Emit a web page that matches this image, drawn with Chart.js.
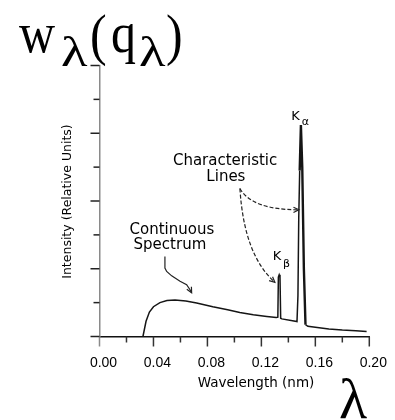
<!DOCTYPE html>
<html>
<head>
<meta charset="utf-8">
<script src="https://cdn.jsdelivr.net/npm/chart.js@4.4.1/dist/chart.umd.min.js"></script>
<style>
  html, body { margin: 0; padding: 0; background: #fff; }
  #wrap { width: 395px; height: 420px; }
</style>
</head>
<body>
<div id="wrap"><canvas id="chart" width="395" height="420"></canvas></div>
<script>
// X-ray tube spectrum (nm, relative units)
const wavelength = [0.0322, 0.0345, 0.0370, 0.0400, 0.0448, 0.0500, 0.0560, 0.0640, 0.0720, 0.0840, 0.0950, 0.1040, 0.1140, 0.1240, 0.1310,
                    0.1322, 0.1326, 0.1332, 0.1338, 0.1343, 0.1352, 0.1464,
                    0.1471, 0.1477, 0.1484, 0.1493, 0.1503, 0.1515, 0.1527, 0.1545, 0.1600, 0.1700, 0.1800, 0.1900, 0.1980];
const intensity  = [0.00, 0.45, 0.72, 0.88, 1.00, 1.06, 1.08, 1.05, 0.99, 0.88, 0.79, 0.71, 0.64, 0.59, 0.56,
                    0.57, 1.75, 1.82, 1.75, 0.54, 0.52, 0.44,
                    1.20, 3.50, 4.90, 6.24, 5.00, 2.00, 0.35, 0.30, 0.27, 0.22, 0.19, 0.17, 0.15];
const xTickLabels = ['0.00', '0.04', '0.08', '0.12', '0.16', '0.20'];

const points = wavelength.map((w, i) => ({ x: w, y: intensity[i] }));

function glyph(ctx, s, x, base, font, sx, sy) {
  ctx.save();
  ctx.translate(x, base);
  ctx.scale(sx, sy);
  ctx.font = font;
  ctx.textAlign = 'left';
  ctx.textBaseline = 'alphabetic';
  ctx.fillText(s, 0, 0);
  ctx.restore();
}

function arrowHead(ctx, x, y, ang, size) {
  ctx.save();
  ctx.setLineDash([]);
  ctx.beginPath();
  ctx.moveTo(x - size * Math.cos(ang - 0.45), y - size * Math.sin(ang - 0.45));
  ctx.lineTo(x, y);
  ctx.lineTo(x - size * Math.cos(ang + 0.45), y - size * Math.sin(ang + 0.45));
  ctx.stroke();
  ctx.restore();
}

const decor = {
  id: 'decor',
  afterDraw(chart) {
    const { ctx, scales: { x, y } } = chart;
    const px = v => x.getPixelForValue(v);
    const py = v => y.getPixelForValue(v);
    ctx.save();

    // tick marks: long on every other tick
    ctx.lineWidth = 1.5;
    x.ticks.forEach((t, i) => {
      const p = px(t.value);
      ctx.strokeStyle = i === 0 ? '#8a8a8a' : '#333';
      ctx.beginPath();
      ctx.moveTo(p, x.top);
      ctx.lineTo(p, x.top + (i % 2 === 0 ? 10 : 6));
      ctx.stroke();
    });
    y.ticks.forEach((t, i) => {
      const p = py(t.value);
      ctx.strokeStyle = '#222';
      ctx.beginPath();
      ctx.moveTo(y.right - (i % 2 === 0 ? 9 : 6), p);
      ctx.lineTo(y.right, p);
      ctx.stroke();
    });

    // annotation arrows
    ctx.strokeStyle = '#222';
    ctx.lineWidth = 1.2;
    const cont = [[0.0485, 2.36], [0.0485, 2.02], [0.0498, 1.92], [0.0535, 1.79], [0.0597, 1.63], [0.0646, 1.53], [0.0671, 1.38], [0.0683, 1.29]];
    ctx.beginPath();
    cont.forEach(([a, b], i) => i ? ctx.lineTo(px(a), py(b)) : ctx.moveTo(px(a), py(b)));
    ctx.stroke();
    const n = cont.length;
    arrowHead(ctx, px(cont[n - 1][0]), py(cont[n - 1][1]),
      Math.atan2(py(cont[n - 1][1]) - py(cont[n - 2][1]), px(cont[n - 1][0]) - px(cont[n - 2][0])), 6);

    ctx.setLineDash([4, 2]);
    const sx = px(0.1041), sy = py(4.37);
    const curves = [
      [[0.1130, 3.74], [0.1478, 3.74]],
      [[0.1071, 2.41], [0.1300, 1.60]]
    ];
    curves.forEach(([c, e]) => {
      ctx.beginPath();
      ctx.moveTo(sx, sy);
      ctx.quadraticCurveTo(px(c[0]), py(c[1]), px(e[0]), py(e[1]));
      ctx.stroke();
      arrowHead(ctx, px(e[0]), py(e[1]), Math.atan2(py(e[1]) - py(c[1]), px(e[0]) - px(c[0])), 6);
    });
    ctx.setLineDash([]);

    // annotation text
    ctx.fillStyle = '#000';
    ctx.textAlign = 'center';
    ctx.textBaseline = 'middle';
    ctx.font = '15px "DejaVu Sans"';
    ctx.fillText('Characteristic', px(0.0931), py(5.18));
    ctx.fillText('Lines', px(0.0937), py(4.72));
    ctx.fillText('Continuous', px(0.0537), py(3.15));
    ctx.fillText('Spectrum', px(0.0522), py(2.71));

    ctx.textAlign = 'left';
    ctx.textBaseline = 'alphabetic';
    ctx.font = '13px "DejaVu Sans"';
    ctx.fillText('K', px(0.1422), py(6.38));
    ctx.fillText('K', px(0.1285), py(2.27));
    ctx.font = '11px "DejaVu Sans"';
    ctx.fillText('α', px(0.1499), py(6.25));
    ctx.fillText('β', px(0.1361), py(2.05));

    // axis titles
    ctx.textAlign = 'center';
    ctx.textBaseline = 'middle';
    ctx.font = '13.5px "DejaVu Sans"';
    ctx.fillText('Wavelength (nm)', 256, 383);
    ctx.save();
    ctx.translate(68, 201.5);
    ctx.rotate(-Math.PI / 2);
    ctx.font = '12.5px "DejaVu Sans"';
    ctx.fillText('Intensity (Relative Units)', 0, 0);
    ctx.restore();

    // big formula text
    const serif = s => s + 'px "Liberation Serif"';
    glyph(ctx, 'w', 19, 52, serif(50), 1, 1.15);
    glyph(ctx, 'λ', 61, 66, serif(42), 1.3, 1);
    glyph(ctx, '(', 90, 54, serif(50), 1, 1.15);
    glyph(ctx, 'q', 111, 52, serif(50), 1, 1.15);
    glyph(ctx, 'λ', 139, 66, serif(42), 1.3, 1);
    glyph(ctx, ')', 166, 54, serif(50), 1, 1.15);
    glyph(ctx, 'λ', 339, 418, serif(58), 1, 1);

    ctx.restore();
  }
};

const chart = new Chart(document.getElementById('chart'), {
  type: 'scatter',
  data: {
    datasets: [{
      data: points,
      showLine: true,
      borderColor: '#151515',
      borderWidth: 1.5,
      pointRadius: 0,
      tension: 0,
      segment: {
        borderWidth: c => (c.p0.parsed.x >= 0.1484 && c.p1.parsed.x <= 0.1527) ? 2.4 : 1.5
      }
    }]
  },
  options: {
    responsive: false,
    animation: false,
    events: [],
    layout: { padding: { left: 0, top: 65.5, right: 25.7, bottom: 0 } },
    plugins: { legend: { display: false }, tooltip: { enabled: false } },
    scales: {
      x: {
        type: 'linear',
        min: 0,
        max: 0.2,
        afterFit: s => { s.height = 83.5; },
        border: { display: true, color: '#111', width: 1.5 },
        grid: { display: true, drawOnChartArea: false, drawTicks: true, tickLength: 10, tickColor: 'rgba(0,0,0,0)' },
        ticks: {
          stepSize: 0.02,
          autoSkip: false,
          maxRotation: 0,
          padding: 8,
          labelOffset: 4,
          color: '#000',
          font: { family: '"Liberation Sans"', size: 14 },
          callback: (v, i) => i % 2 === 0 ? xTickLabels[i / 2] : ''
        }
      },
      y: {
        min: 0,
        max: 8,
        afterFit: s => { s.width = 99.5; },
        border: { display: true, color: '#8a8a8a', width: 1.5 },
        grid: { display: true, drawOnChartArea: false, drawTicks: true, tickLength: 9, tickColor: 'rgba(0,0,0,0)' },
        ticks: { stepSize: 1, display: false }
      }
    }
  },
  plugins: [decor]
});
</script>
</body>
</html>
